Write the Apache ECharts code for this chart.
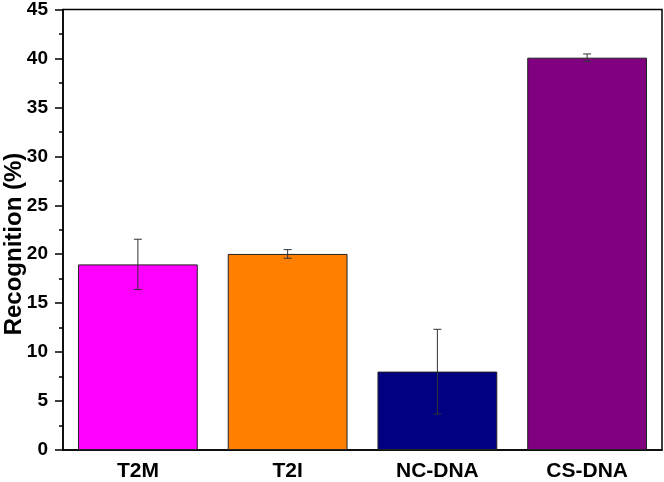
<!DOCTYPE html>
<html lang="en">
  <head>
    <meta charset="UTF-8" />
    <title>Recognition</title>
    <script src="https://cdn.jsdelivr.net/npm/echarts@6/dist/echarts.min.js"></script>
    <style>
      body { margin: 0; background: #fff; }
    </style>
  </head>
  <body>
    <div id="main" style="width: 664px; height: 482px"></div>
    <script type="text/javascript">
      const categories = ["T2M", "T2I", "NC-DNA", "CS-DNA"];
      const values = [18.96, 20.03, 8.01, 40.08];
      const errors = [2.57, 0.44, 4.32, 0.38];
      const colors = ["#ff00ff", "#ff8000", "#000080", "#800080"];
      const yTicks = [0, 45, 5];

      const font = "Liberation Sans, Arial, sans-serif";

      let myChart = echarts.init(document.getElementById("main"));

      let options = {
        animation: false,
        grid: {
          left: 63, right: 2, top: 7, bottom: 31,
          show: true, borderColor: "#000", borderWidth: 1.5,
        },
        xAxis: [
          {
            type: "category",
            data: categories,
            axisLine: { lineStyle: { color: "#000", width: 1.5 } },
            axisTick: { alignWithLabel: true, length: 7, lineStyle: { color: "#000", width: 1.5 } },
            axisLabel: { color: "#000", fontFamily: font, fontWeight: "bold", fontSize: 21, margin: 11 },
          },
          {
            type: "category",
            data: categories,
            position: "bottom",
            axisLine: { show: false },
            axisTick: { length: 3, lineStyle: { color: "#000", width: 1.5 } },
            axisLabel: { show: false },
          },
        ],
        yAxis: {
          type: "value",
          min: yTicks[0], max: yTicks[1], interval: yTicks[2],
          axisLine: { show: true, lineStyle: { color: "#000", width: 1.5 } },
          axisTick: { show: true, length: 8, lineStyle: { color: "#000", width: 1.5 } },
          minorTick: { show: true, splitNumber: 2, length: 4, lineStyle: { color: "#000", width: 1.5 } },
          splitLine: { show: false },
          axisLabel: { color: "#000", fontFamily: font, fontWeight: "bold", fontSize: 19, margin: 15 },
        },
        graphic: [
          {
            type: "text",
            x: 14, y: 244,
            rotation: Math.PI / 2,
            style: {
              text: "Recognition (%)",
              fill: "#000",
              font: "bold 24px " + font,
              textAlign: "center",
              textVerticalAlign: "middle",
            },
          },
        ],
        series: [
          {
            type: "bar",
            barWidth: "80%",
            data: values.map((v, i) => ({
              value: v,
              itemStyle: { color: colors[i], borderColor: "#222", borderWidth: 1 },
            })),
          },
          {
            type: "custom",
            data: values.map((v, i) => [i, v - errors[i], v + errors[i]]),
            renderItem: function (params, api) {
              const lo = api.coord([api.value(0), api.value(1)]);
              const hi = api.coord([api.value(0), api.value(2)]);
              const w = 4;
              const st = { stroke: "#333", lineWidth: 1 };
              return {
                type: "group",
                children: [
                  { type: "line", shape: { x1: lo[0], y1: lo[1], x2: hi[0], y2: hi[1] }, style: st },
                  { type: "line", shape: { x1: lo[0] - w, y1: lo[1], x2: lo[0] + w, y2: lo[1] }, style: st },
                  { type: "line", shape: { x1: hi[0] - w, y1: hi[1], x2: hi[0] + w, y2: hi[1] }, style: st },
                ],
              };
            },
            z: 5,
          },
        ],
      };

      myChart.setOption(options);
    </script>
  </body>
</html>
